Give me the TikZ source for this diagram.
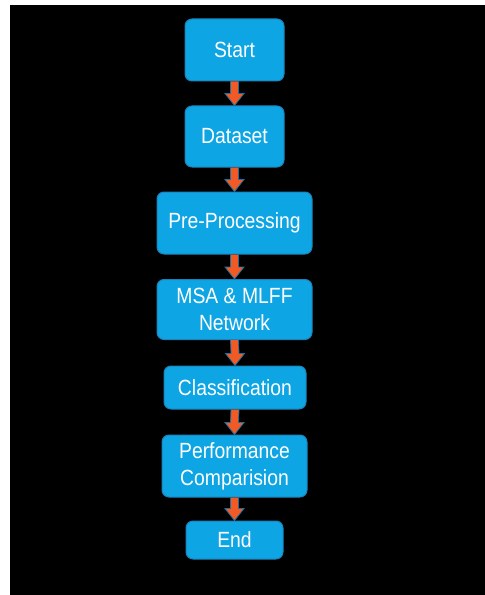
\documentclass[tikz,border=0pt]{standalone}
\usepackage{fontspec}
\setmainfont{Liberation Sans}[FakeStretch=0.88]
\usetikzlibrary{calc}
\definecolor{boxfill}{RGB}{14,165,228}
\definecolor{boxline}{RGB}{28,130,185}
\definecolor{arrfill}{RGB}{241,90,36}
\definecolor{arrline}{RGB}{30,110,160}
\tikzset{
  flowbox/.style={draw=boxline, line width=1bp, fill=boxfill, rounded corners=7bp,
    text=white, align=center, inner sep=0pt,
    font=\fontsize{22bp}{27bp}\selectfont},
  arr/.style={fill=arrfill, draw=arrline, line width=0.8bp, line join=miter}
}
\newcommand{\flowarrow}[2]{%
  \filldraw[arr] ($(#1.south)+(-4,0)$) -- ($(#2.north)+(-4,-12)$) -- ($(#2.north)+(-9.5,-12)$) -- (#2.north) -- ($(#2.north)+(9.5,-12)$) -- ($(#2.north)+(4,-12)$) -- ($(#1.south)+(4,0)$);}
\begin{document}
\begin{tikzpicture}[x=1bp,y=-1bp]
\fill[white] (0,0) rectangle (485,595);
\fill[black] (10,5) rectangle (485,595);
\useasboundingbox (0,0) rectangle (485,595);
\node[flowbox, minimum width=99bp, minimum height=62bp] (start) at (234.5,50) {Start};
\node[flowbox, minimum width=99bp, minimum height=61bp] (data) at (234.5,136.5) {Dataset};
\node[flowbox, minimum width=155bp, minimum height=62bp] (pre) at (234.5,223) {Pre-Processing};
\node[flowbox, minimum width=155bp, minimum height=60bp] (msa) at (234.5,309.5) {MSA \& MLFF\\Network};
\node[flowbox, minimum width=142bp, minimum height=43bp] (cls) at (235,387.5) {Classification};
\node[flowbox, minimum width=145bp, minimum height=62bp] (perf) at (234.5,466) {Performance\\Comparision};
\node[flowbox, minimum width=97bp, minimum height=38bp] (end) at (234.5,540) {End};
\flowarrow{start}{data}
\flowarrow{data}{pre}
\flowarrow{pre}{msa}
\flowarrow{msa}{cls}
\flowarrow{cls}{perf}
\flowarrow{perf}{end}
\end{tikzpicture}
\end{document}
